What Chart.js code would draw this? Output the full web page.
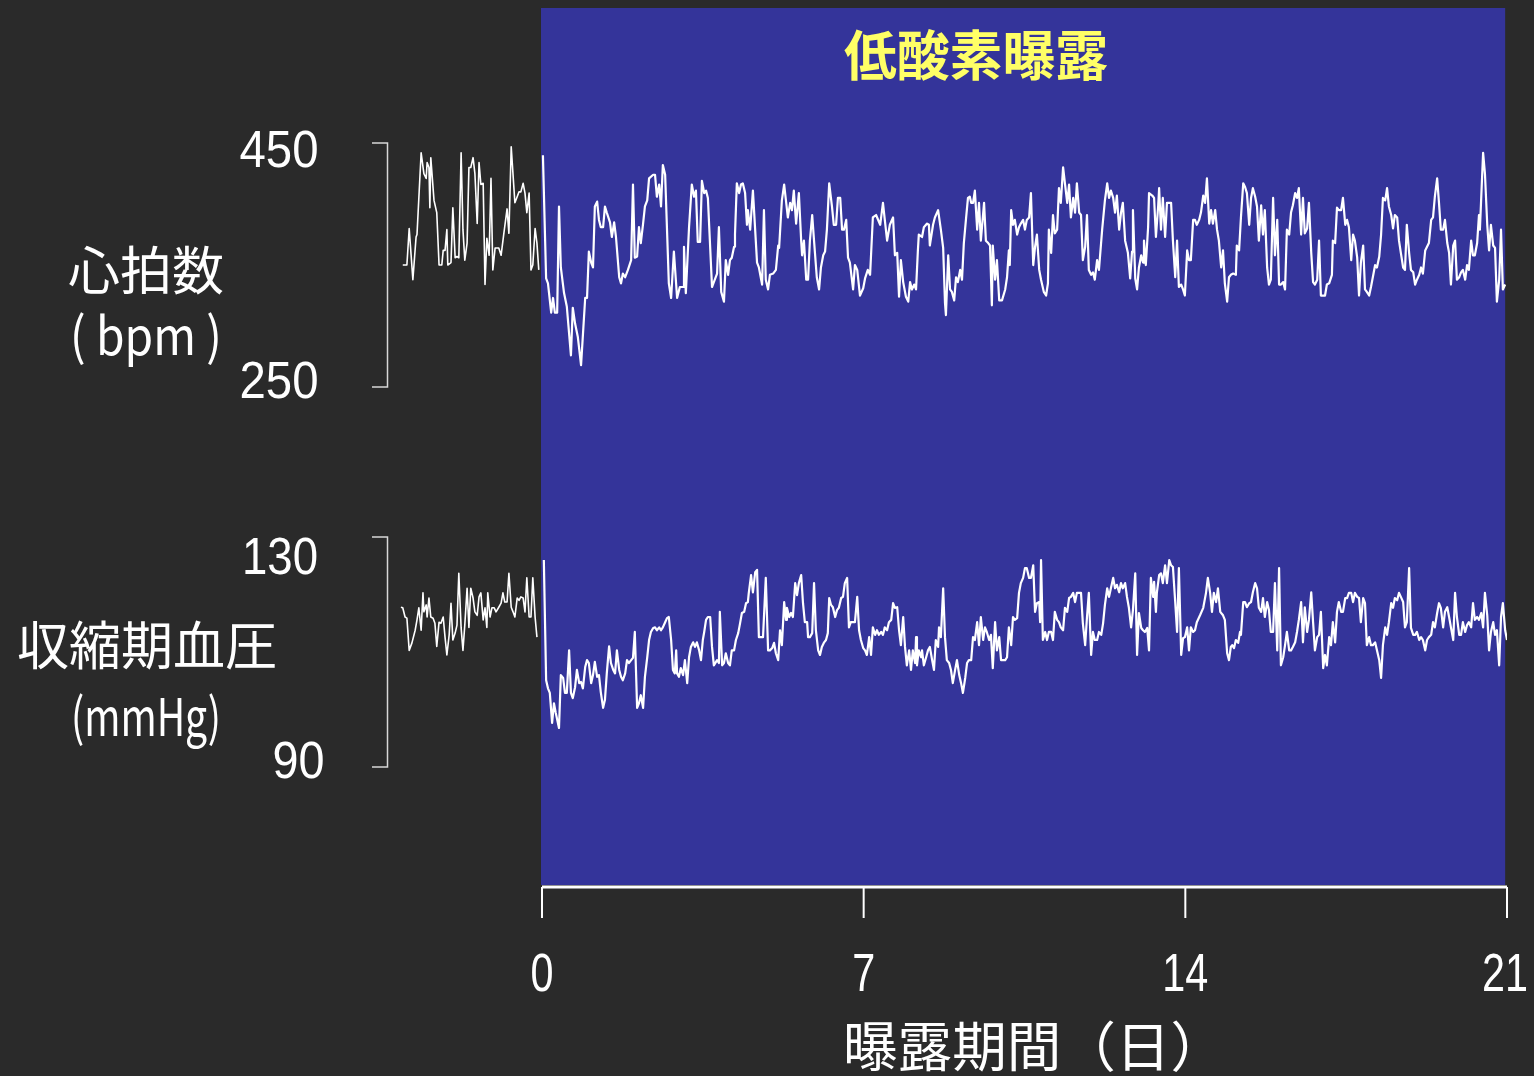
<!DOCTYPE html>
<html>
<head>
<meta charset="utf-8">
<script src="https://cdn.jsdelivr.net/npm/chart.js@4/dist/chart.umd.min.js"></script>
<style>
  html, body { margin: 0; padding: 0; background: #2a2a2a; }
  #wrap { width: 1534px; height: 1076px; }
</style>
</head>
<body>
<div id="wrap"><canvas id="chart" width="1534" height="1076"></canvas></div>
<script>
// day ticks and the two bracket ranges
const dayTicks = [0, 7, 14, 21]
const hrTicks = [250, 450]
const bpTicks = [90, 130]

// heart rate (bpm), [day, value]
const hrBaseline = [[-3.03,350],[-2.94,350],[-2.89,380],[-2.81,338],[-2.74,373],[-2.72,375],[-2.63,442],[-2.57,425],[-2.52,421],[-2.50,434],[-2.46,430],[-2.44,397],[-2.42,438],[-2.35,403],[-2.29,393],[-2.24,350],[-2.18,350],[-2.15,362],[-2.11,362],[-2.07,379],[-2.05,350],[-1.98,352],[-1.94,397],[-1.89,356],[-1.85,357],[-1.81,356],[-1.76,442],[-1.72,379],[-1.68,354],[-1.63,368],[-1.59,430],[-1.55,430],[-1.50,438],[-1.46,425],[-1.41,384],[-1.37,434],[-1.33,416],[-1.28,417],[-1.24,334],[-1.20,372],[-1.15,358],[-1.11,421],[-1.07,346],[-1.02,364],[-0.94,364],[-0.89,358],[-0.83,376],[-0.76,396],[-0.72,376],[-0.67,447],[-0.59,401],[-0.54,406],[-0.50,410],[-0.46,410],[-0.41,417],[-0.37,409],[-0.33,393],[-0.28,409],[-0.24,346],[-0.20,350],[-0.15,380],[-0.11,368],[-0.07,346]]

const hrHypoxia = [[0.02,440],[0.09,339],[0.13,335],[0.20,311],[0.24,323],[0.28,311],[0.33,311],[0.37,398],[0.41,348],[0.48,327],[0.54,316],[0.63,276],[0.67,315],[0.72,302],[0.78,291],[0.85,268],[0.94,323],[0.98,323],[1.02,361],[1.07,352],[1.11,348],[1.15,398],[1.20,402],[1.24,387],[1.28,381],[1.33,381],[1.37,398],[1.41,393],[1.48,385],[1.52,373],[1.57,385],[1.61,373],[1.68,340],[1.72,335],[1.76,343],[1.81,340],[1.87,346],[1.94,354],[1.98,416],[2.02,356],[2.07,357],[2.11,381],[2.15,368],[2.20,384],[2.24,398],[2.29,403],[2.33,421],[2.42,424],[2.46,424],[2.50,406],[2.55,416],[2.59,398],[2.63,432],[2.68,424],[2.76,335],[2.81,323],[2.87,361],[2.94,323],[3.00,332],[3.07,332],[3.09,365],[3.13,327],[3.20,381],[3.26,416],[3.31,406],[3.35,411],[3.39,369],[3.44,369],[3.48,419],[3.53,409],[3.57,411],[3.61,405],[3.70,332],[3.74,336],[3.81,343],[3.85,381],[3.90,328],[3.96,320],[4.00,354],[4.05,342],[4.09,354],[4.13,356],[4.18,365],[4.20,375],[4.24,417],[4.29,409],[4.33,416],[4.37,417],[4.42,409],[4.46,383],[4.48,395],[4.53,379],[4.59,411],[4.68,352],[4.72,348],[4.79,334],[4.83,395],[4.87,338],[4.92,330],[4.96,342],[5.03,343],[5.09,346],[5.14,366],[5.16,364],[5.22,403],[5.27,416],[5.35,389],[5.40,401],[5.44,395],[5.48,411],[5.53,384],[5.59,409],[5.64,370],[5.66,358],[5.70,370],[5.75,338],[5.79,338],[5.83,370],[5.88,391],[5.92,370],[5.98,340],[6.03,330],[6.07,348],[6.12,358],[6.16,361],[6.20,379],[6.25,417],[6.31,398],[6.35,383],[6.40,383],[6.44,405],[6.49,405],[6.53,379],[6.57,379],[6.62,387],[6.66,356],[6.70,352],[6.77,330],[6.81,350],[6.86,346],[6.92,325],[6.99,331],[7.03,339],[7.09,346],[7.14,342],[7.20,389],[7.27,391],[7.36,383],[7.42,401],[7.46,387],[7.51,370],[7.57,383],[7.64,389],[7.68,358],[7.73,360],[7.77,324],[7.81,354],[7.86,336],[7.92,324],[7.97,320],[8.01,336],[8.05,330],[8.10,334],[8.14,330],[8.18,362],[8.20,375],[8.27,373],[8.31,381],[8.38,384],[8.42,383],[8.44,366],[8.51,383],[8.55,389],[8.62,395],[8.68,379],[8.73,364],[8.77,319],[8.79,309],[8.84,358],[8.88,330],[8.92,328],[8.97,321],[9.01,340],[9.05,336],[9.10,346],[9.14,338],[9.18,368],[9.23,389],[9.27,405],[9.31,406],[9.34,401],[9.38,401],[9.42,411],[9.47,379],[9.51,401],[9.55,370],[9.62,401],[9.66,370],[9.71,368],[9.75,366],[9.79,317],[9.81,366],[9.86,338],[9.90,354],[9.95,321],[10.01,321],[10.08,330],[10.12,340],[10.16,362],[10.18,350],[10.21,395],[10.25,383],[10.29,387],[10.34,375],[10.38,381],[10.42,384],[10.47,387],[10.51,379],[10.55,387],[10.60,389],[10.64,409],[10.69,350],[10.73,365],[10.77,375],[10.82,346],[10.86,338],[10.92,328],[10.97,325],[11.01,335],[11.03,379],[11.08,360],[11.12,391],[11.16,376],[11.21,379],[11.25,413],[11.29,401],[11.34,430],[11.38,417],[11.43,401],[11.47,416],[11.51,389],[11.56,405],[11.60,393],[11.64,417],[11.69,393],[11.73,391],[11.77,354],[11.82,365],[11.86,391],[11.90,346],[11.95,342],[11.99,344],[12.03,338],[12.08,354],[12.12,346],[12.19,379],[12.25,403],[12.30,417],[12.34,405],[12.38,411],[12.43,405],[12.47,393],[12.51,407],[12.56,379],[12.60,393],[12.64,401],[12.69,370],[12.75,360],[12.80,339],[12.84,361],[12.86,395],[12.91,339],[12.95,330],[12.99,348],[13.04,358],[13.08,352],[13.10,370],[13.14,350],[13.19,381],[13.21,409],[13.28,407],[13.32,405],[13.36,373],[13.41,399],[13.43,413],[13.47,379],[13.51,405],[13.56,373],[13.60,401],[13.65,401],[13.69,401],[13.73,370],[13.78,340],[13.82,370],[13.86,332],[13.91,334],[13.95,330],[13.99,325],[14.04,362],[14.08,354],[14.12,354],[14.17,387],[14.21,387],[14.25,383],[14.30,387],[14.34,393],[14.39,407],[14.43,401],[14.47,421],[14.52,384],[14.56,395],[14.60,384],[14.65,395],[14.69,379],[14.73,370],[14.78,348],[14.82,362],[14.86,335],[14.91,320],[14.95,340],[14.99,342],[15.04,343],[15.10,342],[15.12,366],[15.17,362],[15.21,389],[15.26,417],[15.30,414],[15.34,409],[15.39,383],[15.43,405],[15.47,413],[15.52,406],[15.56,398],[15.60,370],[15.65,399],[15.69,375],[15.73,395],[15.78,348],[15.82,334],[15.86,338],[15.91,405],[15.95,358],[16.00,387],[16.04,334],[16.08,334],[16.13,336],[16.17,330],[16.21,379],[16.26,375],[16.30,393],[16.34,399],[16.39,409],[16.43,405],[16.47,413],[16.52,375],[16.56,405],[16.60,376],[16.65,380],[16.69,401],[16.74,360],[16.78,336],[16.82,334],[16.87,338],[16.91,370],[16.95,325],[17.00,325],[17.04,325],[17.08,334],[17.13,335],[17.19,342],[17.21,370],[17.26,368],[17.30,397],[17.34,395],[17.39,395],[17.43,405],[17.48,383],[17.52,387],[17.56,381],[17.61,354],[17.65,375],[17.69,370],[17.74,356],[17.78,325],[17.82,352],[17.87,366],[17.91,330],[17.95,328],[18.00,325],[18.04,332],[18.08,340],[18.13,350],[18.17,348],[18.22,357],[18.26,375],[18.30,405],[18.35,403],[18.39,413],[18.43,398],[18.48,391],[18.52,380],[18.56,391],[18.61,389],[18.65,370],[18.69,360],[18.74,348],[18.78,346],[18.82,383],[18.87,360],[18.91,346],[18.96,344],[19.00,334],[19.04,338],[19.09,342],[19.13,348],[19.17,343],[19.22,362],[19.26,365],[19.30,368],[19.35,387],[19.39,389],[19.43,406],[19.48,421],[19.52,401],[19.56,379],[19.61,379],[19.65,387],[19.70,368],[19.74,360],[19.78,334],[19.83,366],[19.87,370],[19.91,338],[19.96,340],[20.00,344],[20.04,346],[20.09,338],[20.13,350],[20.17,346],[20.22,370],[20.26,358],[20.30,358],[20.35,368],[20.39,391],[20.41,379],[20.48,442],[20.52,425],[20.57,383],[20.61,362],[20.65,383],[20.70,366],[20.74,364],[20.78,320],[20.83,338],[20.87,379],[20.91,330],[20.96,334]]

// systolic blood pressure (mmHg), [day, value]
const bpBaseline = [[-3.07,117.8],[-3.03,117.7],[-2.98,116.1],[-2.94,115.9],[-2.89,110.3],[-2.83,111.6],[-2.76,113.8],[-2.72,115.6],[-2.68,117.7],[-2.63,113.8],[-2.59,120.3],[-2.57,117.0],[-2.52,118.2],[-2.50,116.1],[-2.46,119.4],[-2.42,116.1],[-2.37,115.9],[-2.33,115.0],[-2.29,111.0],[-2.24,115.2],[-2.20,115.0],[-2.15,116.1],[-2.11,112.6],[-2.07,109.5],[-2.02,113.0],[-1.98,118.5],[-1.94,112.1],[-1.89,113.3],[-1.85,114.7],[-1.81,123.7],[-1.76,114.2],[-1.72,110.3],[-1.68,114.7],[-1.63,121.1],[-1.59,114.3],[-1.55,121.1],[-1.50,119.4],[-1.46,117.0],[-1.41,116.4],[-1.37,119.6],[-1.33,120.3],[-1.28,115.6],[-1.24,117.7],[-1.20,114.3],[-1.18,120.3],[-1.13,116.1],[-1.09,117.7],[-1.04,117.7],[-1.00,117.0],[-0.94,117.8],[-0.89,118.5],[-0.85,120.3],[-0.81,118.7],[-0.76,118.7],[-0.72,123.7],[-0.67,117.8],[-0.63,117.0],[-0.59,116.1],[-0.54,119.4],[-0.50,119.0],[-0.46,119.6],[-0.41,119.4],[-0.37,117.0],[-0.33,122.9],[-0.28,116.1],[-0.24,116.1],[-0.20,122.9],[-0.15,116.1],[-0.11,112.6]]

const bpHypoxia = [[0.04,126.0],[0.09,105.1],[0.13,103.7],[0.17,102.9],[0.22,97.7],[0.26,101.1],[0.30,99.4],[0.37,96.8],[0.41,106.0],[0.46,105.5],[0.50,102.9],[0.54,102.9],[0.59,110.3],[0.63,102.9],[0.67,102.0],[0.72,103.9],[0.76,106.9],[0.81,104.6],[0.85,104.8],[0.89,103.7],[0.94,107.4],[0.98,108.6],[1.02,108.1],[1.07,104.6],[1.11,106.0],[1.15,108.3],[1.20,105.7],[1.24,106.0],[1.28,103.0],[1.33,100.3],[1.37,101.7],[1.41,106.3],[1.46,111.0],[1.50,108.1],[1.55,106.9],[1.59,106.3],[1.63,110.3],[1.68,106.9],[1.72,105.7],[1.76,105.1],[1.81,106.3],[1.85,108.6],[1.89,108.1],[1.94,108.6],[1.98,109.0],[2.02,113.5],[2.07,100.3],[2.11,101.1],[2.15,102.5],[2.20,100.3],[2.24,105.7],[2.29,109.1],[2.33,112.1],[2.37,113.5],[2.42,114.2],[2.46,114.3],[2.50,113.8],[2.55,114.3],[2.59,113.8],[2.63,114.3],[2.68,115.2],[2.72,115.9],[2.76,116.1],[2.81,112.1],[2.85,106.9],[2.89,106.3],[2.92,110.3],[2.94,106.3],[2.98,105.7],[3.02,107.2],[3.07,106.0],[3.11,108.6],[3.16,104.6],[3.20,109.1],[3.24,110.9],[3.29,111.7],[3.33,110.9],[3.37,111.7],[3.42,110.3],[3.46,108.6],[3.50,112.1],[3.53,113.5],[3.57,115.6],[3.61,116.1],[3.66,116.1],[3.70,110.9],[3.74,107.7],[3.81,108.6],[3.85,108.1],[3.87,117.0],[3.92,107.7],[3.96,108.1],[4.00,109.8],[4.05,108.1],[4.09,107.7],[4.13,110.3],[4.18,110.3],[4.22,112.1],[4.27,113.3],[4.31,115.0],[4.35,116.8],[4.40,117.0],[4.44,118.5],[4.48,118.7],[4.50,120.3],[4.55,123.4],[4.59,120.4],[4.64,123.9],[4.68,124.3],[4.72,112.6],[4.77,112.6],[4.81,112.6],[4.87,122.9],[4.92,110.3],[4.96,110.3],[5.01,110.7],[5.05,111.6],[5.09,109.8],[5.14,108.6],[5.18,113.8],[5.22,111.2],[5.27,118.7],[5.31,115.6],[5.33,117.7],[5.38,116.1],[5.42,116.8],[5.46,116.1],[5.51,122.0],[5.55,119.9],[5.59,122.0],[5.64,123.4],[5.68,118.5],[5.72,115.2],[5.77,115.2],[5.79,112.6],[5.83,112.6],[5.88,113.3],[5.92,122.0],[5.96,113.8],[6.01,110.3],[6.05,109.5],[6.09,110.9],[6.14,111.7],[6.18,112.1],[6.22,113.3],[6.25,119.4],[6.29,118.2],[6.33,117.8],[6.38,116.1],[6.42,117.3],[6.46,117.7],[6.51,119.4],[6.55,119.6],[6.59,122.0],[6.64,122.9],[6.68,114.3],[6.72,115.2],[6.77,115.2],[6.81,115.2],[6.86,119.6],[6.90,113.8],[6.94,112.1],[6.99,110.7],[7.03,110.3],[7.07,109.5],[7.12,112.6],[7.16,109.5],[7.20,114.3],[7.25,113.0],[7.29,113.8],[7.33,113.0],[7.38,113.5],[7.42,113.0],[7.46,114.3],[7.51,113.8],[7.55,115.2],[7.60,115.6],[7.64,118.5],[7.68,117.7],[7.73,117.8],[7.77,113.8],[7.81,111.2],[7.86,116.1],[7.90,110.9],[7.94,107.7],[7.99,110.3],[8.03,106.9],[8.07,110.3],[8.12,108.1],[8.14,112.6],[8.16,107.7],[8.20,110.3],[8.25,109.1],[8.27,110.3],[8.31,107.7],[8.36,109.1],[8.40,110.3],[8.44,110.9],[8.49,108.6],[8.53,106.9],[8.57,112.1],[8.62,110.9],[8.64,114.3],[8.68,112.6],[8.73,121.1],[8.77,112.6],[8.81,108.6],[8.86,108.1],[8.90,106.9],[8.94,104.6],[8.99,106.9],[9.03,108.6],[9.08,106.0],[9.12,104.6],[9.16,102.9],[9.21,105.5],[9.25,108.1],[9.29,108.6],[9.34,108.6],[9.38,112.6],[9.42,112.1],[9.47,115.2],[9.51,111.2],[9.55,116.1],[9.60,112.1],[9.64,114.3],[9.68,113.5],[9.73,112.1],[9.77,113.0],[9.81,107.2],[9.86,115.2],[9.90,110.3],[9.95,112.6],[9.99,108.6],[10.03,108.6],[10.08,108.6],[10.12,109.1],[10.16,114.3],[10.21,111.2],[10.25,116.1],[10.29,115.6],[10.34,115.9],[10.38,120.3],[10.42,122.0],[10.47,122.9],[10.51,124.6],[10.55,124.6],[10.60,122.9],[10.64,122.9],[10.69,125.1],[10.73,117.0],[10.77,118.5],[10.82,118.7],[10.84,115.2],[10.86,126.0],[10.90,112.1],[10.95,113.5],[10.99,112.1],[11.03,113.5],[11.08,113.5],[11.12,112.1],[11.16,117.0],[11.21,115.6],[11.25,115.2],[11.29,114.3],[11.34,113.8],[11.38,117.7],[11.43,117.0],[11.47,119.4],[11.51,119.6],[11.56,120.3],[11.60,118.7],[11.64,120.3],[11.69,120.3],[11.73,120.3],[11.77,115.0],[11.82,111.2],[11.86,116.1],[11.90,120.3],[11.95,109.5],[11.99,113.5],[12.03,112.1],[12.08,112.1],[12.12,113.5],[12.17,113.0],[12.21,115.0],[12.25,118.2],[12.30,121.1],[12.34,119.6],[12.38,121.1],[12.43,122.9],[12.47,121.1],[12.51,121.7],[12.56,120.4],[12.60,122.0],[12.64,121.1],[12.69,122.0],[12.73,119.6],[12.77,117.8],[12.82,114.3],[12.86,117.3],[12.91,123.7],[12.95,109.5],[12.99,116.8],[13.04,114.2],[13.08,113.8],[13.12,113.5],[13.17,114.2],[13.21,110.3],[13.25,122.9],[13.30,119.6],[13.32,122.2],[13.36,117.0],[13.38,120.3],[13.43,123.4],[13.47,123.7],[13.51,122.0],[13.56,125.1],[13.60,122.0],[13.65,126.0],[13.69,125.1],[13.73,124.8],[13.78,118.7],[13.82,113.5],[13.86,124.6],[13.91,109.5],[13.95,112.4],[13.99,112.6],[14.04,114.3],[14.08,110.3],[14.12,114.3],[14.17,113.5],[14.21,113.8],[14.25,115.2],[14.32,116.4],[14.39,117.7],[14.45,120.3],[14.49,122.9],[14.54,120.3],[14.58,117.0],[14.62,120.3],[14.67,118.7],[14.71,121.1],[14.76,117.0],[14.82,116.4],[14.86,115.6],[14.91,109.8],[14.95,108.6],[14.99,110.9],[15.02,111.2],[15.06,110.7],[15.10,112.1],[15.15,111.6],[15.19,113.5],[15.21,113.0],[15.26,118.7],[15.30,118.7],[15.34,117.8],[15.39,118.5],[15.43,118.7],[15.47,120.4],[15.52,122.0],[15.56,121.1],[15.60,117.7],[15.65,117.0],[15.69,119.4],[15.73,116.1],[15.78,118.7],[15.82,117.3],[15.86,113.5],[15.91,113.5],[15.95,122.0],[16.00,110.3],[16.04,124.6],[16.08,107.7],[16.13,109.1],[16.17,111.2],[16.21,113.5],[16.26,110.3],[16.30,110.3],[16.34,110.9],[16.39,111.7],[16.43,113.5],[16.47,115.6],[16.52,118.7],[16.56,111.7],[16.60,117.8],[16.65,113.5],[16.69,115.6],[16.74,120.4],[16.78,115.2],[16.82,110.3],[16.87,112.6],[16.91,113.0],[16.95,117.0],[17.00,107.2],[17.04,109.5],[17.08,107.7],[17.13,112.6],[17.17,111.2],[17.21,115.2],[17.26,111.7],[17.30,117.0],[17.34,118.7],[17.39,117.0],[17.43,117.0],[17.48,119.4],[17.52,119.4],[17.56,120.3],[17.61,120.3],[17.65,118.7],[17.69,120.3],[17.74,119.6],[17.78,119.4],[17.82,115.2],[17.87,119.4],[17.91,118.5],[17.95,111.2],[18.00,112.6],[18.04,111.2],[18.08,111.2],[18.13,111.7],[18.17,110.3],[18.22,108.6],[18.26,105.5],[18.30,111.2],[18.35,114.3],[18.39,113.0],[18.43,115.2],[18.48,118.5],[18.52,117.7],[18.56,119.4],[18.61,119.0],[18.65,120.3],[18.69,119.6],[18.74,118.7],[18.78,114.3],[18.82,115.2],[18.87,124.6],[18.91,114.2],[18.96,113.0],[19.00,113.0],[19.04,113.5],[19.09,112.1],[19.13,112.6],[19.17,112.1],[19.22,110.3],[19.26,112.1],[19.30,112.6],[19.35,113.0],[19.39,115.2],[19.43,114.3],[19.48,116.8],[19.52,118.5],[19.56,117.7],[19.61,114.3],[19.65,117.0],[19.70,117.8],[19.74,116.1],[19.78,114.3],[19.83,112.1],[19.87,120.3],[19.91,116.1],[19.96,113.0],[20.00,113.0],[20.04,115.2],[20.09,113.5],[20.13,114.7],[20.17,115.2],[20.22,114.3],[20.26,118.5],[20.30,115.6],[20.35,116.1],[20.39,115.6],[20.44,116.8],[20.48,114.3],[20.52,120.3],[20.57,116.4],[20.61,110.3],[20.65,113.5],[20.70,115.2],[20.74,113.0],[20.78,113.8],[20.83,107.7],[20.87,116.1],[20.91,118.5],[20.96,113.8],[21.00,112.1]]

const toPoints = arr => arr.map(p => ({ x: p[0], y: p[1] }))

const CJK = '"Noto Sans CJK JP", "Noto Sans CJK SC", sans-serif'
const LAT = '"Liberation Sans", Arial, sans-serif'

// draws text squeezed/stretched to a given width
function fitText(ctx, text, cx, y, w, font, color, baseline) {
  ctx.save()
  ctx.font = font
  const m = ctx.measureText(text).width
  ctx.translate(cx, y)
  ctx.scale(w / m, 1)
  ctx.fillStyle = color || '#ffffff'
  ctx.textAlign = 'center'
  ctx.textBaseline = baseline || 'middle'
  ctx.fillText(text, 0, 0)
  ctx.restore()
}

const decor = {
  id: 'decor',
  beforeDatasetsDraw(chart) {
    const { ctx, chartArea, scales } = chart
    const x0 = scales.x.getPixelForValue(0) - 1
    const x1 = scales.x.getPixelForValue(20.96)
    ctx.save()
    ctx.fillStyle = '#34349a'
    ctx.fillRect(x0, chartArea.top, x1 - x0, chartArea.bottom - chartArea.top)
    ctx.restore()
  },
  afterDraw(chart) {
    const { ctx, scales } = chart
    const x = scales.x

    // brackets for the two series
    ctx.save()
    ctx.strokeStyle = '#d8d8d8'
    ctx.lineWidth = 1.5
    ;[[scales.hr, hrTicks], [scales.bp, bpTicks]].forEach(([s, t]) => {
      const yTop = s.getPixelForValue(t[1])
      const yBot = s.getPixelForValue(t[0])
      ctx.beginPath()
      ctx.moveTo(372, yTop)
      ctx.lineTo(387.5, yTop)
      ctx.lineTo(387.5, yBot)
      ctx.lineTo(372, yBot)
      ctx.stroke()
    })
    ctx.restore()

    // bracket numbers
    const numFont = '51px ' + LAT
    fitText(ctx, String(hrTicks[1]), 279, scales.hr.getPixelForValue(hrTicks[1]) + 24, 79, numFont, '#fff', 'alphabetic')
    fitText(ctx, String(hrTicks[0]), 279, scales.hr.getPixelForValue(hrTicks[0]) + 11, 79, numFont, '#fff', 'alphabetic')
    fitText(ctx, String(bpTicks[1]), 280, scales.bp.getPixelForValue(bpTicks[1]) + 37, 76, numFont, '#fff', 'alphabetic')
    fitText(ctx, String(bpTicks[0]), 298.5, scales.bp.getPixelForValue(bpTicks[0]) + 11, 52, numFont, '#fff', 'alphabetic')

    // axis titles on the left
    fitText(ctx, '心拍数', 146, 270, 156, '52px ' + CJK)
    fitText(ctx, '( bpm )', 146, 335, 152, '52px ' + CJK)
    fitText(ctx, '収縮期血圧', 147, 645, 260, '52px ' + CJK)
    fitText(ctx, '(mmHg)', 146, 716, 150, '52px ' + CJK)

    // x axis
    const yAxis = 887
    ctx.save()
    ctx.strokeStyle = '#ffffff'
    ctx.lineWidth = 3
    ctx.beginPath()
    ctx.moveTo(x.getPixelForValue(dayTicks[0]), yAxis)
    ctx.lineTo(x.getPixelForValue(dayTicks[dayTicks.length - 1]), yAxis)
    ctx.stroke()
    ctx.lineWidth = 2
    dayTicks.forEach(d => {
      const px = x.getPixelForValue(d)
      ctx.beginPath()
      ctx.moveTo(px, yAxis)
      ctx.lineTo(px, 918)
      ctx.stroke()
    })
    ctx.restore()
    dayTicks.forEach(d => {
      const s = String(d)
      const px = x.getPixelForValue(d)
      const w = s.length === 1 ? 23 : 46
      fitText(ctx, s, Math.min(px, 1505), 991, w, '53px ' + LAT, '#fff', 'alphabetic')
    })
    fitText(ctx, '曝露期間（日）', 1034, 1046, 382, '54px ' + CJK)

    // title inside the hypoxia box
    fitText(ctx, '低酸素曝露', 976, 55, 264, 'bold 54px ' + CJK, '#ffff66')
  }
}

const lineStyle = { borderColor: '#ffffff', borderJoinStyle: 'round', pointRadius: 0, tension: 0, fill: false }

new Chart(document.getElementById('chart'), {
  type: 'line',
  data: {
    datasets: [
      { ...lineStyle, data: toPoints(hrBaseline), yAxisID: 'hr', borderWidth: 1.6 },
      { ...lineStyle, data: toPoints(hrHypoxia), yAxisID: 'hr', borderWidth: 2.2 },
      { ...lineStyle, data: toPoints(bpBaseline), yAxisID: 'bp', borderWidth: 1.6 },
      { ...lineStyle, data: toPoints(bpHypoxia), yAxisID: 'bp', borderWidth: 2.2 }
    ]
  },
  options: {
    responsive: false,
    animation: false,
    devicePixelRatio: 1,
    layout: { padding: { left: 400, right: 27, top: 8, bottom: 191 } },
    plugins: { legend: { display: false }, tooltip: { enabled: false } },
    scales: {
      x: { type: 'linear', min: -3.09, max: 21, display: false },
      // ranges chosen so 450/250 and 130/90 land on the brackets
      hr: { type: 'linear', min: -158.2, max: 560.7, display: false },
      bp: { type: 'linear', min: 69.5, max: 222.0, display: false }
    }
  },
  plugins: [decor]
})
</script>
</body>
</html>
